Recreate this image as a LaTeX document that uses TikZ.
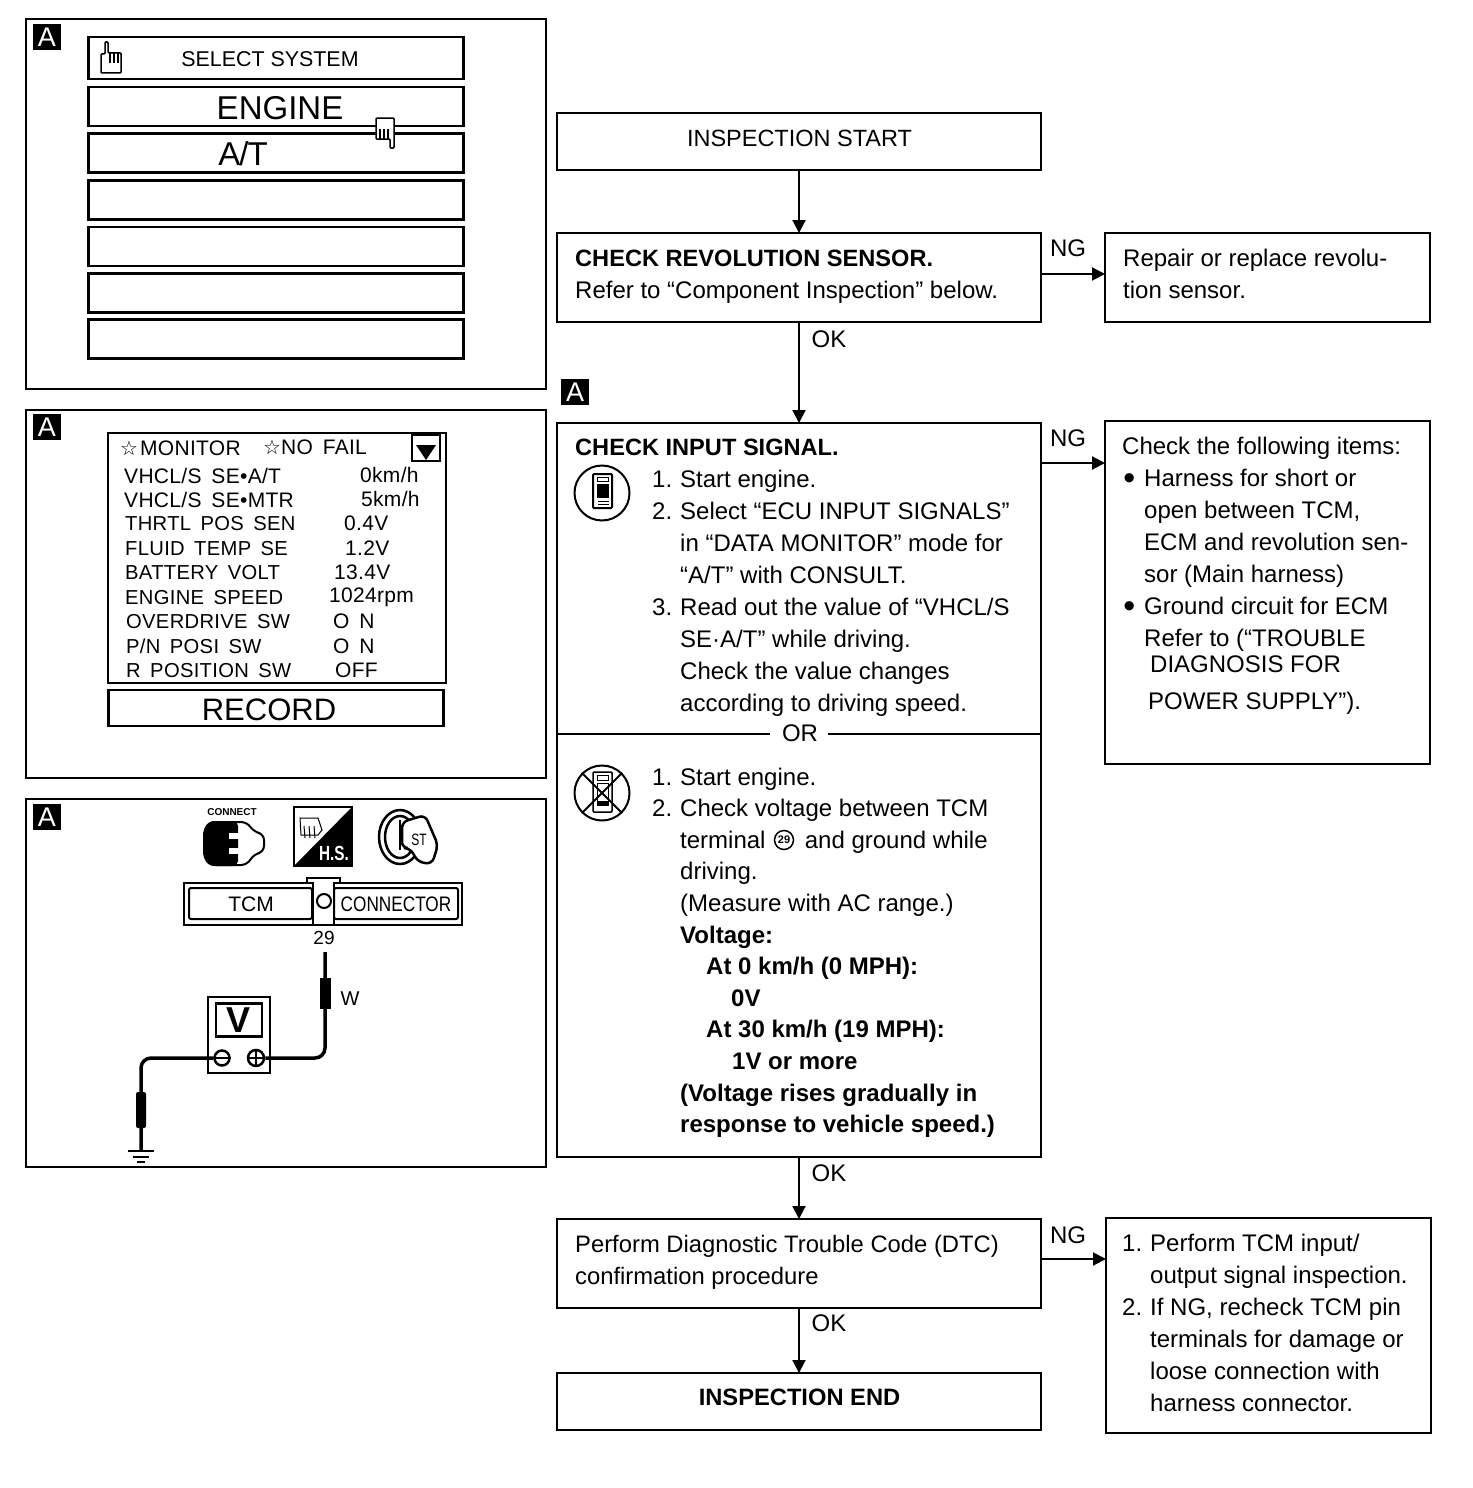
\documentclass[tikz,border=0pt]{standalone}
\usepackage{fontspec}
\setmainfont{Liberation Sans}
\newfontfamily\symfont{DejaVu Sans}
\newfontfamily\monfont[LetterSpace=1.5,WordSpace=1.6]{Liberation Sans}
\usetikzlibrary{arrows.meta}
\newcommand{\fsize}[1]{\fontsize{#1}{32}\selectfont}
\newcommand{\lnum}[1]{\makebox[28pt][l]{#1}}
\newcommand{\bigdot}{\makebox[14pt][c]{\raisebox{-3pt}{\fontsize{34}{32}\selectfont\textbullet}}\hspace{8pt}}
\tikzset{
  flowbox/.style={draw=black,line width=2pt,minimum width=484pt,inner sep=0pt,outer sep=0pt},
  sidebox/.style={draw=black,line width=2pt,minimum width=325pt,inner sep=0pt,outer sep=0pt},
  panel/.style={draw=black,line width=2pt,fill=none,inner sep=0pt},
  scrbox/.style={draw=black,line width=2.6pt,minimum width=375pt,minimum height=39pt,inner sep=0pt},
  badge/.style={fill=black,text=white,minimum width=28pt,minimum height=26pt,inner sep=0pt,font=\fsize{27}},
  txt/.style={anchor=north west,inner sep=0pt,align=left,font=\fsize{24},execute at begin node=\strut},
  lbl/.style={inner sep=0pt,font=\fsize{24}},
  mon/.style={anchor=west,inner sep=0pt,font=\fsize{21}\monfont},
  monrow/.style={anchor=west,inner sep=0pt,font=\fsize{20.2}\monfont},
  wire/.style={line width=3.5pt,rounded corners=10pt}
}

\begin{document}
\begin{tikzpicture}[x=1pt,y=-1pt]
\useasboundingbox (0,0) rectangle (1472,1488);
\begin{scope}[>={Triangle[length=13pt,width=13pt]}]

    % panels on the left
    \draw[panel] (26,19) rectangle (546,389);
    \draw[panel] (26,410) rectangle (546,778);
    \draw[panel] (26,799) rectangle (546,1167);
    \node[badge] (badgea) at (47,37) {A};
    \node[badge] (badgeb) at (47,427) {A};
    \node[badge] (badgec) at (47,817) {A};
    \node[badge] (badged) at (575,392) {A};

    % select system screen
    \node[scrbox,minimum height=42pt] (selsys) at (276,58) {};
    \node[inner sep=0pt,font=\fsize{21.4}] at (270,59) {SELECT SYSTEM};
    \node[scrbox] (engine) at (276,106.5) {};
    \node[inner sep=0pt,font=\fsize{33}] at (280,108) {ENGINE};
    \node[scrbox] (atsys) at (276,153) {};
    \node[inner sep=0pt,font=\fsize{33}] at (243,154) {\addfontfeatures{LetterSpace=-3}A/T};
    \node[scrbox] (rowa) at (276,200) {};
    \node[scrbox] (rowb) at (276,246.5) {};
    \node[scrbox] (rowc) at (276,293) {};
    \node[scrbox] (rowd) at (276,339) {};
    \begin{scope}[shift={(2,0)}]
    \draw[black,line width=1.5pt,rounded corners=1pt] (99,73) -- (99,54) -- (103,54) -- (103,42) -- (106,42) -- (106,53) -- (119,53) -- (119,73) -- cycle;
    \foreach \x in {108,112,116} \draw[black,line width=1.2pt] (\x,53) -- (\x,63);
    \end{scope}
    \begin{scope}[shift={(7,2)}]
    \draw[black,fill=white,line width=1.5pt,rounded corners=1pt] (369,116) -- (387,116) -- (387,146) -- (383,146) -- (383,137) -- (369,137) -- cycle;
    \foreach \x in {373,377,381} \draw[black,line width=1.2pt] (\x,127) -- (\x,137);
    \end{scope}

    % data monitor screen
    \draw[black,line width=2.5pt] (108,433) rectangle (446,683);
    \draw[black,line width=2.5pt] (412,435) rectangle (440,461);
    \fill[black] (416,445) -- (436,445) -- (426,460) -- cycle;
    \node[mon] (monhead) at (120,448) {{\symfont\fsize{20}☆}\hspace{2pt}MONITOR};
    \node[mon] (failhead) at (263,447) {{\symfont\fsize{20}☆}NO FAIL};
    \node[mon] (vala) at (124,476) {VHCL/S SE•A/T};
    \node[mon] (valb) at (124,500) {VHCL/S SE•MTR};
    \node[monrow] (valc) at (125,524) {THRTL POS SEN};
    \node[monrow] (vald) at (125,549) {FLUID TEMP SE};
    \node[monrow] (vale) at (125,573) {BATTERY VOLT};
    \node[monrow] (valf) at (125,598) {ENGINE SPEED};
    \node[monrow] (valg) at (126,622) {OVERDRIVE SW};
    \node[monrow] (valh) at (126,646) {P/N POSI SW};
    \node[monrow] (vali) at (126,671) {R POSITION SW};
    \node[mon] at (360,475) {0km/h};
    \node[mon] at (361,499) {5km/h};
    \node[mon] at (344,523) {0.4V};
    \node[mon] at (345,548) {1.2V};
    \node[mon] at (334,572) {13.4V};
    \node[mon] at (329,597) {1024rpm};
    \node[mon] at (333,621) {O N};
    \node[mon] at (333,646) {O N};
    \node[mon] at (335,670) {OFF};
    \node[draw=black,line width=2.5pt,minimum width=335pt,minimum height=36pt,inner sep=0pt] (recbox) at (276,708) {};
    \node[inner sep=0pt,font=\fsize{31}] at (269,710) {RECORD};

    % connect icon
    \node[inner sep=0pt,font=\fsize{10}\bfseries] at (232,812) {CONNECT};
    \draw[black,line width=2pt,rounded corners=6pt] (210,822) -- (247,822) -- (254,832) -- (264,834) -- (264,852) -- (254,854) -- (247,865) -- (210,865) -- cycle;
    \fill[black,rounded corners=5pt] (203,830) -- (209,821) -- (238,821) -- (238,866) -- (209,866) -- (203,857) -- cycle;
    \fill[white] (229,833) rectangle (241,839);
    \fill[white] (229,848) rectangle (241,854);

    % hot shutdown icon
    \draw[black,line width=1.5pt] (294,807) rectangle (352,866);
    \fill[black] (294,866) -- (352,807) -- (352,866) -- cycle;
    \draw[black,line width=1pt] (300,818) -- (318,818) -- (322,830) -- (318,835) -- (301,835) -- cycle;
    \foreach \x in {304,309,314} \draw[black,line width=1pt] (\x,826) -- (\x+1,838);
    \node[inner sep=0pt,text=white,font=\fsize{17}\bfseries] at (334,853) {\scalebox{0.9}[1.2]{H.S.}};

    % ignition key icon
    \draw[black,line width=2.5pt] (400,837) ellipse (21pt and 27pt);
    \draw[black,line width=2.5pt] (400,837) ellipse (15pt and 21pt);
    \draw[black,fill=white,line width=2.5pt,rounded corners=6pt] (402,822) -- (425,815) -- (438,845) -- (432,864) -- (418,862) -- (410,848) -- (402,848) -- cycle;
    \node[inner sep=0pt,font=\fsize{15}] at (419,840) {\scalebox{0.8}[1.1]{ST}};
    \draw[black,line width=2.5pt] (400,820) -- (400,850);

    % tcm connector
    \draw[black,line width=2.5pt] (184,883) rectangle (462,925);
    \draw[black,line width=2pt,rounded corners=2pt] (189,888) rectangle (312,919);
    \draw[black,line width=2pt,rounded corners=2pt] (334,888) rectangle (458,919);
    \draw[black,fill=white,line width=2pt] (312,878) -- (340,878) -- (340,883) -- (334,883) -- (334,925) -- (313,925) -- (313,883) -- (307,883) -- (307,878) -- cycle;
    \node[draw=black,circle,line width=2pt,minimum size=14pt,inner sep=0pt] (pinhole) at (324,901) {};
    \node[inner sep=0pt,font=\fsize{21}] (tcmtext) at (251,904) {TCM};
    \node[inner sep=0pt,font=\fsize{21}] (context) at (396,904) {\scalebox{0.82}[1]{CONNECTOR}};
    \node[inner sep=0pt,font=\fsize{19}] (pinno) at (324,938) {29};

    % voltmeter and wires
    \coordinate (probe) at (325,952);
    \coordinate (gndpt) at (141,1150);
    \node[draw=black,line width=2pt,minimum width=62pt,minimum height=76pt,inner sep=0pt] (meter) at (239,1035) {};
    \node[draw=black,line width=2.5pt,minimum width=46pt,minimum height=33pt,inner sep=0pt,font=\fsize{36}\bfseries] (vbox) at (239,1020) {V};
    \node[draw=black,circle,line width=2.5pt,minimum size=15pt,inner sep=0pt,fill=white] (minus) at (222,1058) {};
    \node[draw=black,circle,line width=2.5pt,minimum size=16pt,inner sep=0pt,fill=white] (plus) at (256,1058) {};
    \draw[wire] (plus.east) -- (325,1058) -- (probe);
    \draw[wire] (minus.west) -- (141,1058) -- (gndpt);
    \draw[black,line width=2.5pt] (plus.west) -- (plus.east) (plus.north) -- (plus.south);
    \draw[black,line width=2.5pt] (minus.west) -- (minus.east);
    \fill[black] (320,978) rectangle (331,1009);
    \fill[black,rounded corners=2pt] (136,1092) rectangle (146,1128);
    \draw[black,line width=2.5pt] (128,1151) -- (154,1151);
    \draw[black,line width=2.5pt] (133,1157) -- (149,1157);
    \draw[black,line width=2pt] (137,1162) -- (145,1162);
    \node[inner sep=0pt,font=\fsize{20}] (wlabel) at (350,999) {W};

    % flow chart boxes
    \node[flowbox,minimum height=57pt] (start) at (799,141.5) {};
    \node[inner sep=0pt,font=\fsize{23.5}] at (799.5,138) {INSPECTION START};
    \node[flowbox,minimum height=89pt] (revsens) at (799,277.5) {};
    \node[sidebox,minimum height=89pt] (revfix) at (1267.5,277.5) {};
    \node[flowbox,minimum height=734pt] (input) at (799,790) {};
    \node[sidebox,minimum height=343pt] (items) at (1267.5,592.5) {};
    \node[flowbox,minimum height=89pt] (dtc) at (799,1263.5) {};
    \node[sidebox,minimum height=215pt] (tcmchk) at (1268.5,1325.5) {};
    \node[flowbox,minimum height=57pt] (finish) at (799,1401.5) {};
    \node[inner sep=0pt,font=\fsize{23.7}\bfseries] at (799.5,1397) {INSPECTION END};

    % arrows
    \coordinate (nga) at (1042,274);
    \coordinate (ngb) at (1042,463);
    \coordinate (ngc) at (1042,1259);
    \draw[black,line width=2pt,->] (start) -- (revsens);
    \draw[black,line width=2pt,->] (revsens) -- (input);
    \draw[black,line width=2pt,->] (input) -- (dtc);
    \draw[black,line width=2pt,->] (dtc) -- (finish);
    \draw[black,line width=2pt,->] (nga) -- (nga -| revfix.west);
    \draw[black,line width=2pt,->] (ngb) -- (ngb -| items.west);
    \draw[black,line width=2pt,->] (ngc) -- (ngc -| tcmchk.west);
    \node[lbl] (oka) at (829,339) {OK};
    \node[lbl] (okb) at (829,1173) {OK};
    \node[lbl] (okc) at (829,1323) {OK};
    \node[lbl] (nglabela) at (1068,248) {NG};
    \node[lbl] (nglabelb) at (1068,438) {NG};
    \node[lbl] (nglabelc) at (1068,1235) {NG};

    % box texts
    \node[txt] (revtext) at (575,250) {{\fsize{23.6}\bfseries CHECK REVOLUTION SENSOR.}\\Refer to “Component Inspection” below.};
    \node[txt] (fixtext) at (1123,249) {Repair or replace revolu-\\tion sensor.};
    \node[txt] (inputhead) at (575,433) {\fsize{23.6}\bfseries CHECK INPUT SIGNAL.};
    \node[txt] (inputa) at (652,469.5) {\lnum{1.}Start engine.\\\lnum{2.}Select “ECU INPUT SIGNALS”\\\lnum{}in “DATA MONITOR” mode for\\\lnum{}“A/T” with CONSULT.\\\lnum{3.}Read out the value of “VHCL/S\\\lnum{}SE·A/T” while driving.\\\lnum{}Check the value changes\\\lnum{}according to driving speed.};
    \draw[black,line width=2pt] (input.west |- 0,734) -- (770,734);
    \draw[black,line width=2pt] (828,734) -- (input.east |- 0,734);
    \node[lbl] (ortext) at (800,733) {OR};
    \node[txt,font=\fontsize{24}{31.6}\selectfont] (inputb) at (652,767.5) {\lnum{1.}Start engine.\\\lnum{2.}Check voltage between TCM\\\lnum{}terminal \hspace{26pt} and ground while\\\lnum{}driving.\\\lnum{}(Measure with AC range.)\\\lnum{}\textbf{Voltage:}\\\lnum{}\hspace{26pt}\textbf{At 0 km/h (0 MPH):}\\\lnum{}\hspace{51pt}\textbf{0V}\\\lnum{}\hspace{26pt}\textbf{At 30 km/h (19 MPH):}\\\lnum{}\hspace{52pt}\textbf{1V or more}\\\lnum{}\textbf{(Voltage rises gradually in}\\\lnum{}\textbf{response to vehicle speed.)}};
    \node[draw=black,circle,line width=1.5pt,minimum size=19pt,inner sep=0pt,font=\fsize{11}\bfseries] (pincircle) at (784,840) {29};
    \node[txt] (itemtext) at (1122,432) {Check the following items:};
    \node[txt] (itemlist) at (1122,469) {\bigdot Harness for short or\\\makebox[22pt]{}open between TCM,\\\makebox[22pt]{}ECM and revolution sen-\\\makebox[22pt]{}sor (Main harness)\\\bigdot Ground circuit for ECM\\\makebox[22pt]{}Refer to (“TROUBLE};
    \node[txt,anchor=west] (itemdiag) at (1150,666) {DIAGNOSIS FOR};
    \node[txt,anchor=west] (itempower) at (1148,703) {POWER SUPPLY”).};
    \node[txt,font=\fontsize{23.8}{32}\selectfont] (dtctext) at (575,1235) {Perform Diagnostic Trouble Code (DTC)\\confirmation procedure};
    \node[txt] (tcmtxt) at (1122,1234) {\lnum{1.}Perform TCM input/\\\lnum{}output signal inspection.\\\lnum{2.}If NG, recheck TCM pin\\\lnum{}terminals for damage or\\\lnum{}loose connection with\\\lnum{}harness connector.};

    % consult icons
    \node[draw=black,circle,line width=2pt,minimum size=55pt,inner sep=0pt] (cona) at (602,493) {};
    \draw[black,line width=2pt,rounded corners=1pt] (593,474) rectangle (612,508);
    \draw[black,line width=1pt] (597,477) rectangle (608,481);
    \fill[black] (597,484) rectangle (609,498);
    \draw[black,line width=1pt] (598,501) -- (609,501) (598,504) -- (609,504);
    \node[draw=black,circle,line width=2pt,minimum size=55pt,inner sep=0pt] (conb) at (602,793) {};
    \draw[black,line width=1.5pt,rounded corners=1pt] (593,772) rectangle (612,812);
    \draw[black,line width=1pt] (597,775) rectangle (608,780);
    \draw[black,line width=1pt] (597,783) rectangle (608,805);
    \fill[black] (597,801) rectangle (609,806);
    \draw[black,line width=2pt] (conb.135) -- (conb.315);
    \draw[black,line width=2pt] (conb.45) -- (conb.225);
\end{scope}
\end{tikzpicture}
\end{document}
